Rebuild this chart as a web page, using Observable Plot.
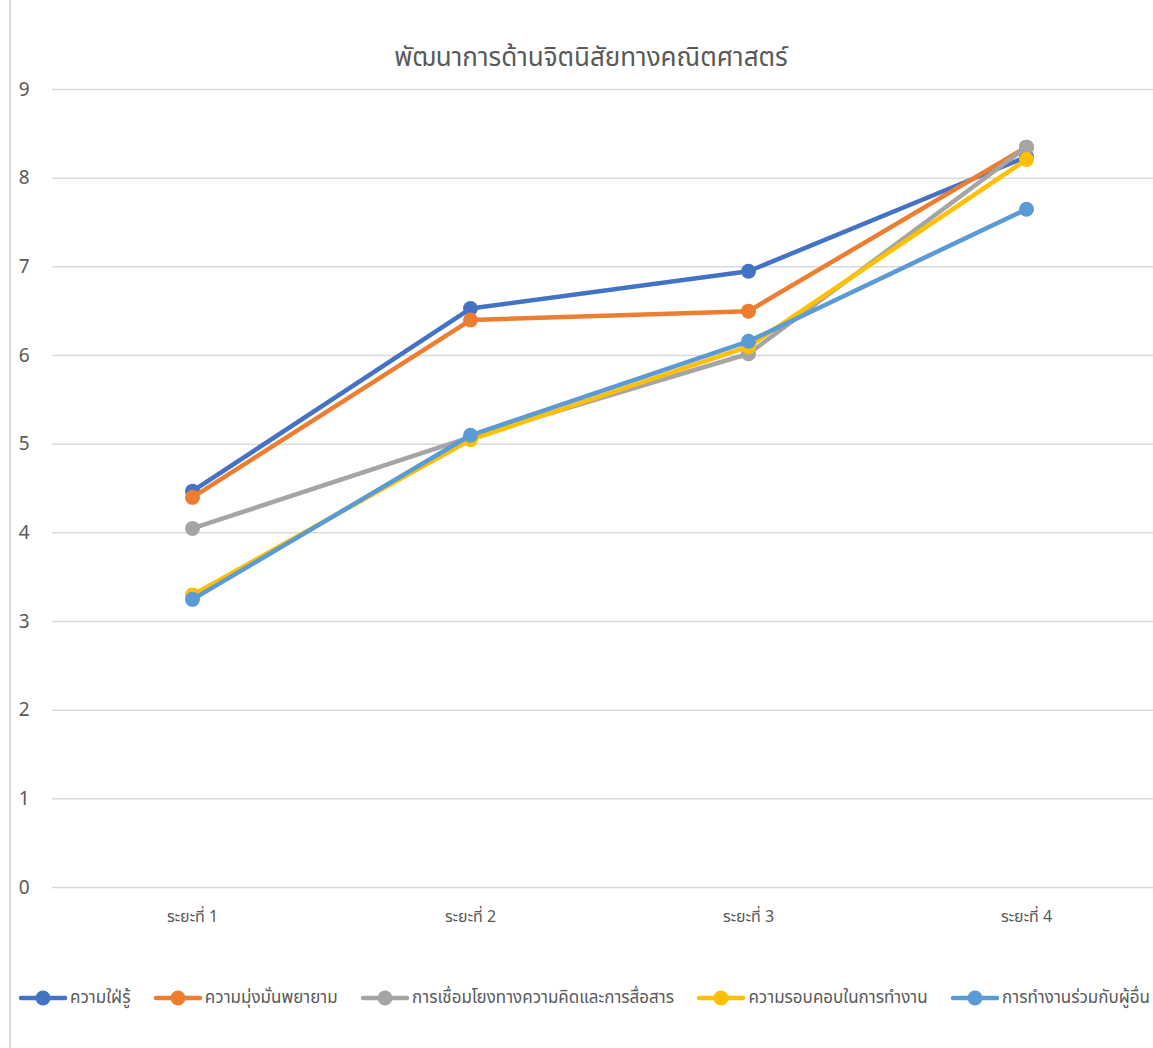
<!DOCTYPE html>
<html>
<head>
<meta charset="utf-8">
<script src="https://cdn.jsdelivr.net/npm/d3@7"></script>
<script src="https://cdn.jsdelivr.net/npm/@observablehq/plot@0.6"></script>
<style>
  html, body { margin: 0; padding: 0; background: #fff; }
  #wrap { position: relative; width: 1153px; height: 1048px; overflow: hidden; background: #fff;
          font-family: "Leelawadee UI", "Noto Sans Thai", "Noto Sans", "Open Sans", sans-serif; }
  #border { position: absolute; left: 9px; top: 0; width: 2px; height: 1048px; background: #d9d9d9; }
  #title { position: absolute; top: 38px; left: 10px; width: 1162px; text-align: center;
           font-size: 26px; color: #595959; }
  #chart { position: absolute; top: 60px; left: 0; }
  #legend { position: absolute; top: 985px; left: 18px; width: 1132px; display: flex;
            justify-content: space-between; align-items: center;
            font-size: 17px; color: #595959; white-space: nowrap; }
  .item { display: flex; align-items: center; }
  .item svg { margin-right: 2px; }
</style>
</head>
<body>
<div id="wrap">
  <div id="border"></div>
  <div id="title">พัฒนาการด้านจิตนิสัยทางคณิตศาสตร์</div>
  <div id="chart"></div>
  <div id="legend"></div>
</div>
<script>
const categories = ["ระยะที่ 1", "ระยะที่ 2", "ระยะที่ 3", "ระยะที่ 4"];
const seriesNames = [
  "ความใฝ่รู้",
  "ความมุ่งมั่นพยายาม",
  "การเชื่อมโยงทางความคิดและการสื่อสาร",
  "ความรอบคอบในการทำงาน",
  "การทำงานร่วมกับผู้อื่น"
];
const curiosity     = [4.47, 6.53, 6.95, 8.24];
const perseverance  = [4.40, 6.40, 6.50, 8.35];
const connecting    = [4.05, 5.08, 6.02, 8.35];
const carefulness   = [3.30, 5.05, 6.10, 8.21];
const teamwork      = [3.25, 5.10, 6.16, 7.65];
const seriesValues = [curiosity, perseverance, connecting, carefulness, teamwork];
const colors = ["#4472C4", "#ED7D31", "#A5A5A5", "#FFC000", "#5B9BD5"];
const yTicks = [0, 1, 2, 3, 4, 5, 6, 7, 8, 9];

const data = [];
seriesNames.forEach((s, i) => {
  categories.forEach((c, j) => data.push({series: s, cat: c, value: seriesValues[i][j]}));
});

const marks = [
  Plot.ruleY(yTicks, {stroke: "#d9d9d9", strokeWidth: 1.5}),
  Plot.axisY(yTicks, {tickSize: 0, tickPadding: 23, fontSize: 19, fill: "#595959", label: null, tickFormat: d3.format("d")}),
  Plot.axisX({tickSize: 0, tickPadding: 23, fontSize: 16, fill: "#595959", label: null})
];
seriesNames.forEach((s, i) => {
  const d = data.filter(r => r.series === s);
  marks.push(Plot.line(d, {x: "cat", y: "value", stroke: colors[i], strokeWidth: 4.5}));
  marks.push(Plot.dot(d, {x: "cat", y: "value", fill: colors[i], r: 7.5, stroke: "none"}));
});

const chart = Plot.plot({
  width: 1153,
  height: 890,
  marginLeft: 52,
  marginRight: -13,
  marginTop: 29,
  marginBottom: 63,
  style: {fontFamily: '"Leelawadee UI", "Noto Sans Thai", "Noto Sans", sans-serif', background: "transparent", overflow: "hidden"},
  x: {type: "point", domain: categories, padding: 0.5},
  y: {domain: [0, 9]},
  marks
});
document.getElementById("chart").appendChild(chart);

const legend = document.getElementById("legend");
seriesNames.forEach((s, i) => {
  const item = document.createElement("div");
  item.className = "item";
  item.innerHTML = `<svg width="50" height="26"><line x1="3" x2="47" y1="13" y2="13" stroke="${colors[i]}" stroke-width="4.5" stroke-linecap="round"/><circle cx="25" cy="13" r="7.5" fill="${colors[i]}"/></svg><span>${s}</span>`;
  legend.appendChild(item);
});
</script>
</body>
</html>
